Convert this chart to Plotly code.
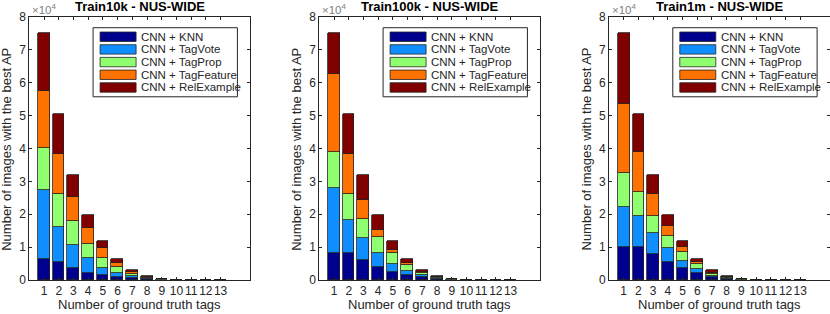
import plotly.graph_objects as go

W, H = 830, 314

tags = list(range(1, 14))
tick_labels = [str(t) for t in tags]
methods = ["CNN + KNN", "CNN + TagVote", "CNN + TagProp", "CNN + TagFeature", "CNN + RelExample"]
colors = ["#00008F", "#0F8FFF", "#8FFF70", "#FF7200", "#800000"]
titles = ["Train10k - NUS-WIDE", "Train100k - NUS-WIDE", "Train1m - NUS-WIDE"]

# Train10k
t10k_knn = [6300, 5400, 3500, 2100, 1500, 1000, 600, 300, 60, 15, 6, 3, 1]
t10k_tagvote = [21100, 10800, 7300, 4500, 2300, 1000, 700, 200, 60, 10, 5, 2, 1]
t10k_tagprop = [12900, 10100, 7200, 4500, 3000, 1850, 600, 200, 60, 10, 5, 2, 1]
t10k_tagfeature = [17100, 12100, 7100, 4600, 2800, 1400, 650, 150, 60, 10, 5, 2, 1]
t10k_relexample = [17700, 12100, 6700, 4100, 2200, 1250, 550, 250, 60, 15, 5, 3, 1]

# Train100k
t100k_knn = [8100, 8100, 6100, 4100, 2500, 1400, 900, 400, 60, 20, 8, 4, 2]
t100k_tagvote = [19800, 10100, 6600, 4000, 2400, 1400, 500, 100, 60, 10, 5, 2, 1]
t100k_tagprop = [11100, 8100, 6000, 4900, 3200, 1700, 700, 300, 60, 10, 5, 2, 1]
t100k_tagfeature = [23800, 12000, 5500, 2200, 1000, 600, 300, 50, 60, 5, 3, 2, 0]
t100k_relexample = [12300, 12200, 7600, 4600, 2700, 1400, 700, 250, 60, 15, 5, 2, 1]

# Train1m
t1m_knn = [9900, 9900, 8000, 5500, 3500, 2000, 900, 450, 60, 20, 8, 4, 2]
t1m_tagvote = [12400, 9700, 6200, 4100, 2400, 1300, 400, 150, 60, 10, 5, 2, 1]
t1m_tagprop = [10100, 7200, 5400, 3800, 2500, 1600, 600, 200, 60, 10, 5, 2, 1]
t1m_tagfeature = [21100, 12200, 6500, 3100, 1700, 700, 300, 100, 60, 5, 3, 2, 0]
t1m_relexample = [21600, 11500, 5700, 3300, 1700, 900, 900, 200, 60, 15, 5, 2, 1]

panels = [
    [t10k_knn, t10k_tagvote, t10k_tagprop, t10k_tagfeature, t10k_relexample],
    [t100k_knn, t100k_tagvote, t100k_tagprop, t100k_tagfeature, t100k_relexample],
    [t1m_knn, t1m_tagvote, t1m_tagprop, t1m_tagfeature, t1m_relexample],
]

y_ticks = [0, 10000, 20000, 30000, 40000, 50000, 60000, 70000, 80000]
y_tick_text = ["0", "1", "2", "3", "4", "5", "6", "7", "8"]

FONT = "Liberation Sans, Arial, Helvetica, sans-serif"
AXC = "#262626"

# pixel layout
ax_top_px, ax_bot_px = 17.3, 280.0
ML, MR = 29, 0
MT, MB = ax_top_px, H - ax_bot_px
PW = W - ML - MR
PH = H - MT - MB
ax_left_px = [29.3, 319.3, 609.0]
ax_w_px = 220.7

fig = go.Figure()
for p, series in enumerate(panels):
    xa = "x" if p == 0 else f"x{p+1}"
    ya = "y" if p == 0 else f"y{p+1}"
    for m, vals in enumerate(series):
        fig.add_trace(go.Bar(
            x=tags, y=vals, name=methods[m], width=0.8,
            marker=dict(color=colors[m], line=dict(color="#222222", width=0.8)),
            xaxis=xa, yaxis=ya, showlegend=False,
        ))

layout = dict(
    width=W, height=H, margin=dict(l=ML, r=MR, t=MT, b=MB, pad=0, autoexpand=False),
    paper_bgcolor="white", plot_bgcolor="white",
    barmode="stack", bargap=0,
    font=dict(family=FONT, size=12, color=AXC),
)
annotations = []
shapes = []
for p in range(3):
    sfx = "" if p == 0 else str(p + 1)
    x0 = (ax_left_px[p] - ML) / PW
    x1 = min(1.0, (ax_left_px[p] + ax_w_px - ML) / PW)
    common = dict(ticks="inside", ticklen=3, tickcolor=AXC, showline=True, linecolor=AXC,
                  linewidth=1, mirror="ticks", showgrid=False, zeroline=False,
                  automargin=False, tickangle=0,
                  tickfont=dict(size=12, color=AXC, family=FONT))
    layout["xaxis" + sfx] = dict(domain=[x0, x1], range=[0, 15], anchor="y" + sfx,
                                 tickvals=tags, ticktext=tick_labels, **common)
    layout["yaxis" + sfx] = dict(domain=[0, 1], range=[0, 80000], anchor="x" + sfx,
                                 tickvals=y_ticks, ticktext=y_tick_text, **common)
    xd = "x" + sfx + " domain"
    yd = "y" + sfx + " domain"
    annotations.append(dict(text="<b>" + titles[p] + "</b>", xref=xd, yref=yd,
                            x=0.5, y=1, yshift=10.5, xanchor="center", yanchor="middle",
                            showarrow=False, font=dict(size=13, color="black", family=FONT)))
    annotations.append(dict(text="×10<sup>4</sup>", xref=xd, yref=yd,
                            x=0, xshift=1, y=1, yshift=8, xanchor="left", yanchor="middle",
                            showarrow=False, font=dict(size=11.5, color="#808080", family=FONT)))
    annotations.append(dict(text="Number of ground truth tags", xref=xd, yref=yd,
                            x=0.5, y=0, yshift=-24, xanchor="center", yanchor="middle",
                            showarrow=False, font=dict(size=13, color=AXC, family=FONT)))
    annotations.append(dict(text="Number of images with the best AP", xref=xd, yref=yd,
                            x=0, xshift=-23, y=0.5, yshift=-1, xanchor="center", yanchor="middle",
                            textangle=-90, showarrow=False,
                            font=dict(size=13, color=AXC, family=FONT)))
    # legend box (drawn in axis-domain coordinates)
    lx0, lx1 = 0.289, 0.943
    ly1 = (PH - (28 - MT)) / PH
    ly0 = (PH - (97 - MT)) / PH
    shapes.append(dict(type="rect", xref=xd, yref=yd, x0=lx0, x1=lx1, y0=ly0, y1=ly1,
                       line=dict(color=AXC, width=1), fillcolor="white", layer="above"))
    for m in range(5):
        cy_px = 37 + m * 12.67
        cy = (PH - (cy_px - MT)) / PH
        hh = 4.7 / PH
        sx0 = lx0 + 7 / ax_w_px
        sx1 = lx0 + 43 / ax_w_px
        shapes.append(dict(type="rect", xref=xd, yref=yd, x0=sx0, x1=sx1,
                           y0=cy - hh, y1=cy + hh, fillcolor=colors[m],
                           line=dict(color="#222222", width=0.8), layer="above"))
        annotations.append(dict(text=methods[m], xref=xd, yref=yd,
                                x=lx0 + 46 / ax_w_px, y=cy, xanchor="left", yanchor="middle",
                                showarrow=False, font=dict(size=11.5, color=AXC, family=FONT)))

layout["annotations"] = annotations
layout["shapes"] = shapes
fig.update_layout(**layout)
# let the fixed-size figure sit flush with the window's top-left corner
fig.write_html("out.html", config={"displayModeBar": False},
               post_script="document.body.style.margin='0px';document.body.style.overflow='hidden';")
